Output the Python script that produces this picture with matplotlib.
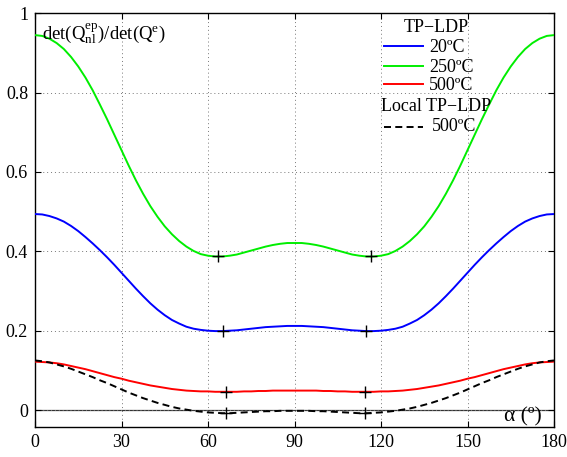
import matplotlib
matplotlib.use("Agg")
import matplotlib.pyplot as plt

plt.rcParams['font.family'] = ['Liberation Serif', 'DejaVu Serif']
plt.rcParams['mathtext.fontset'] = 'custom'
plt.rcParams['mathtext.rm'] = 'Liberation Serif'
plt.rcParams['mathtext.it'] = 'Liberation Serif:italic'

# ---- data, half curve 0..90 deg, mirrored about 90 ----
alpha_half = [0, 2.5, 5, 7.5, 10, 12.5, 15, 17.5, 20, 22.5, 25, 27.5, 30, 32.5, 35, 37.5,
              40, 42.5, 45, 47.5, 50, 52.5, 55, 57.5, 60, 62.5, 65, 67.5, 70, 72.5, 75,
              77.5, 80, 82.5, 85, 87.5, 90]
tp_20 = [0.494, 0.493, 0.489, 0.483, 0.475, 0.464, 0.451, 0.436, 0.420, 0.403, 0.385,
         0.366, 0.346, 0.326, 0.306, 0.287, 0.269, 0.253, 0.239, 0.227, 0.218, 0.210,
         0.205, 0.202, 0.200, 0.199, 0.199, 0.200, 0.201, 0.203, 0.205, 0.207, 0.209,
         0.210, 0.211, 0.212, 0.212]
tp_250 = [0.945, 0.943, 0.936, 0.925, 0.910, 0.890, 0.866, 0.838, 0.806, 0.770, 0.733,
          0.694, 0.655, 0.616, 0.579, 0.545, 0.514, 0.487, 0.463, 0.443, 0.426, 0.412,
          0.401, 0.393, 0.389, 0.387, 0.387, 0.389, 0.392, 0.397, 0.402, 0.407, 0.412,
          0.416, 0.419, 0.421, 0.421]
tp_500 = [0.122, 0.121, 0.120, 0.118, 0.115, 0.111, 0.107, 0.103, 0.098, 0.093, 0.088,
          0.083, 0.079, 0.074, 0.070, 0.066, 0.062, 0.059, 0.056, 0.053, 0.051, 0.049,
          0.048, 0.047, 0.047, 0.046, 0.046, 0.046, 0.046, 0.047, 0.047, 0.048, 0.048,
          0.049, 0.049, 0.049, 0.049]
local_500 = [0.125, 0.123, 0.120, 0.115, 0.110, 0.104, 0.097, 0.090, 0.083, 0.075, 0.068,
             0.060, 0.052, 0.044, 0.037, 0.030, 0.024, 0.018, 0.013, 0.008, 0.004, 0.001,
             -0.002, -0.004, -0.006, -0.007, -0.008, -0.008, -0.007, -0.006, -0.005,
             -0.004, -0.003, -0.003, -0.002, -0.002, -0.002]

# minima markers
min_alpha_250 = [63.6, 116.4]
min_val_250 = [0.387, 0.387]
min_alpha_20 = [65.3, 114.7]
min_val_20 = [0.199, 0.199]
min_alpha_500 = [66.3, 114.5]
min_val_500 = [0.046, 0.046]
min_alpha_loc = [66.3, 114.5]
min_val_loc = [-0.008, -0.008]

xticks = [0, 30, 60, 90, 120, 150, 180]
yticks = [0, 0.2, 0.4, 0.6, 0.8, 1]
ytick_labels = ['0', '0.2', '0.4', '0.6', '0.8', '1']


def mirror(a, v):
    a = list(a)
    v = list(v)
    return a + [180 - x for x in a[-2::-1]], v + v[-2::-1]


fig = plt.figure(figsize=(5.67, 4.57), dpi=100)
ax = fig.add_axes([35 / 567, 1 - 426.7 / 457, 519 / 567, 413.4 / 457])

ax.axhline(0, color='#333333', lw=0.9, zorder=1)

DASH = (3.6, 2.2)
for vals, col, ls in [(tp_20, '#0000ff', '-'), (tp_250, '#00ee00', '-'),
                      (tp_500, '#ff0000', '-'), (local_500, 'black', '--')]:
    xa, ya = mirror(alpha_half, vals)
    ax.plot(xa, ya, color=col, ls=ls, lw=1.4, zorder=3,
            dashes=DASH if ls == '--' else (None, None))

for xa, ya in [(min_alpha_250, min_val_250), (min_alpha_20, min_val_20),
               (min_alpha_500, min_val_500), (min_alpha_loc, min_val_loc)]:
    ax.plot(xa, ya, ls='none', marker='+', ms=9, mew=1.0, color='black', zorder=4)

ax.set_xlim(0, 180)
ax.set_ylim(-0.042, 1)
ax.set_xticks(xticks)
ax.set_yticks(yticks)
ax.set_yticklabels(ytick_labels)
ax.grid(True, ls=(0, (1, 3)), color='#777777', lw=0.7)
ax.tick_params(direction='in', top=True, right=True, labelsize=13, length=4, width=0.8, pad=5)
for s in ax.spines.values():
    s.set_linewidth(1.0)

# y label inside
ax.text(7 / 519, 1 - 21 / 413.4, r'$\mathregular{det(Q_{nl}^{ep})/det(Q^{e})}$',
        transform=ax.transAxes, fontsize=13.5, ha='left', va='center')
# x label inside
ax.text(1 - 12 / 519, 1 - 404 / 413.4, 'α (º)', transform=ax.transAxes,
        fontsize=15.5, ha='right', va='center')

# legend (manual)
def px(x, y):
    return ((x - 35) / 519, 1 - (y - 13.3) / 413.4)

T = ax.transAxes
fs = 13
ax.text(*px(436, 28), 'TP−LDP', transform=T, fontsize=fs, ha='center', va='center')
for ycen, col, lab in [(46, '#0000ff', '20ºC'), (66, '#00ee00', '250ºC'), (84, '#ff0000', '500ºC')]:
    x0, y0 = px(384, ycen)
    x1, _ = px(423, ycen)
    ax.plot([x0, x1], [y0, y0], color=col, lw=1.4, transform=T, clip_on=False)
    ax.text(*px(429, ycen + 2), lab, transform=T, fontsize=fs, ha='left', va='center')
ax.text(*px(381, 107), 'Local TP−LDP', transform=T, fontsize=fs, ha='left', va='center')
x0, y0 = px(384, 127)
x1, _ = px(423, 127)
ax.plot([x0, x1], [y0, y0], color='black', lw=1.4, dashes=DASH, transform=T)
ax.text(*px(432, 127), '500ºC', transform=T, fontsize=fs, ha='left', va='center')

fig.savefig('out.png', dpi=100)
